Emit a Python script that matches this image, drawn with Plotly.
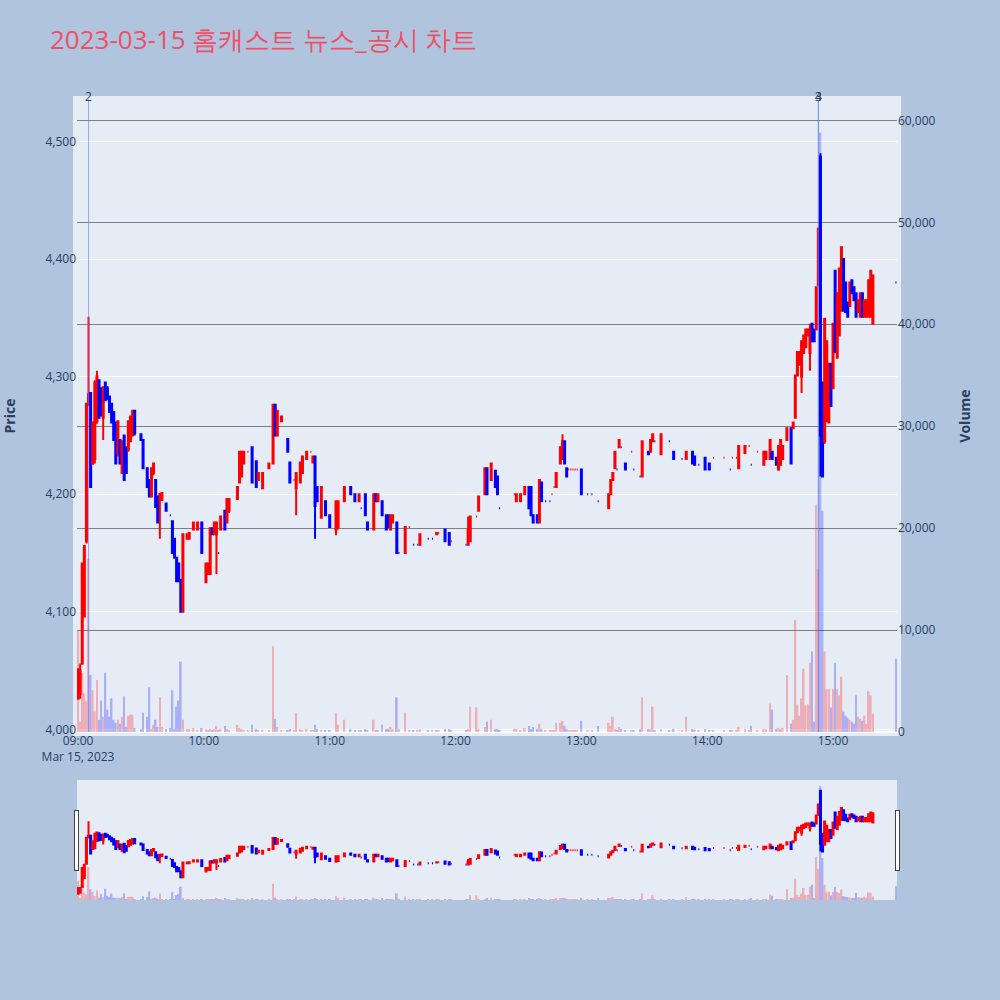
import pandas as pd
import plotly.graph_objects as go

DATE = "2023-03-15"
TITLE = "2023-03-15 홈캐스트 뉴스_공시 차트"

times = [
    "09:00","09:01","09:02","09:03","09:04","09:05","09:06","09:07","09:08","09:09",
    "09:10","09:11","09:12","09:13","09:14","09:15","09:16","09:17","09:18","09:19",
    "09:20","09:21","09:22","09:23","09:24","09:25","09:26","09:27","09:30","09:31",
    "09:33","09:34","09:35","09:36","09:37","09:38","09:39","09:40","09:42","09:44",
    "09:45","09:46","09:47","09:48","09:49","09:50","09:52","09:53","09:55","09:57",
    "09:59","10:01","10:02","10:03","10:04","10:05","10:06","10:07","10:08","10:10",
    "10:11","10:12","10:16","10:17","10:18","10:19","10:21","10:23","10:25","10:26",
    "10:28","10:31","10:33","10:34","10:35","10:37","10:40","10:41","10:43","10:44",
    "10:46","10:47","10:49","10:51","10:52","10:53","10:54","10:56","10:58","11:00",
    "11:03","11:04","11:07","11:10","11:12","11:14","11:15","11:17","11:18","11:21",
    "11:22","11:23","11:25","11:27","11:28","11:29","11:30","11:32","11:33","11:36",
    "11:38","11:40","11:42","11:43","11:47","11:49","11:51","11:52","11:55","11:57",
    "11:58","12:05","12:06","12:07","12:10","12:11","12:14","12:15","12:17","12:19",
    "12:20","12:21","12:28","12:29","12:31","12:33","12:35","12:36","12:37","12:39",
    "12:40","12:41","12:43","12:45","12:46","12:47","12:48","12:50","12:51","12:52",
    "12:53","12:54","12:55","12:56","12:57","12:58","13:00","13:03","13:05","13:08",
    "13:13","13:14","13:15","13:16","13:17","13:18","13:19","13:21","13:24","13:25",
    "13:28","13:29","13:32","13:33","13:34","13:35","13:38","13:42","13:44","13:48",
    "13:50","13:53","13:54","13:56","13:59","14:01","14:03","14:08","14:11","14:12",
    "14:14","14:15","14:18","14:20","14:21","14:24","14:27","14:28","14:30","14:31",
    "14:33","14:34","14:35","14:36","14:38","14:40","14:41","14:42","14:43","14:44",
    "14:45","14:46","14:47","14:48","14:49","14:50","14:51","14:52","14:53","14:54",
    "14:55","14:56","14:57","14:58","14:59","15:00","15:01","15:02","15:03","15:04",
    "15:05","15:06","15:07","15:08","15:09","15:10","15:11","15:12","15:13","15:14",
    "15:15","15:16","15:17","15:18","15:19","15:30",
]

opens = [
    4026,4030,4056,4096,4160,4278,4286,4226,4230,4262,
    4297,4290,4265,4295,4290,4283,4277,4270,4261,4235,
    4246,4218,4250,4240,4238,4245,4250,4271,4251,4246,
    4222,4212,4198,4218,4212,4198,4195,4195,4192,4182,
    4177,4162,4146,4141,4127,4100,4162,4162,4170,4170,
    4176,4125,4132,4132,4171,4166,4166,4150,4170,4186,
    4176,4186,4196,4210,4215,4226,4236,4240,4228,4212,
    4205,4222,4226,4276,4250,4262,4247,4227,4212,4205,
    4210,4218,4230,4236,4227,4232,4206,4180,4194,4182,
    4170,4172,4194,4206,4200,4194,4188,4200,4176,4170,
    4200,4194,4194,4182,4182,4170,4176,4176,4150,4150,
    4172,4157,4157,4157,4162,4162,4166,4167,4170,4167,
    4160,4157,4157,4160,4181,4186,4200,4222,4212,4220,
    4215,4188,4200,4194,4194,4200,4206,4206,4182,4182,
    4176,4210,4194,4194,4200,4206,4206,4226,4230,4245,
    4222,4221,4221,4221,4221,4221,4221,4200,4200,4194,
    4188,4200,4212,4222,4221,4240,4240,4226,4236,4221,
    4215,4215,4236,4236,4245,4245,4234,4245,4236,4230,
    4230,4236,4232,4225,4231,4226,4231,4231,4221,4231,
    4231,4222,4235,4241,4225,4236,4225,4230,4230,4236,
    4231,4221,4225,4230,4246,4256,4256,4265,4301,4310,
    4300,4320,4325,4335,4320,4345,4340,4340,4378,4487,
    4295,4245,4262,4261,4311,4290,4390,4316,4335,4356,
    4400,4380,4363,4360,4382,4376,4371,4355,4351,4371,
    4351,4351,4351,4351,4345,4380,
]

highs = [
    4051,4056,4141,4156,4277,4351,4286,4261,4297,4305,
    4297,4290,4291,4295,4292,4283,4277,4270,4261,4262,
    4246,4245,4250,4240,4262,4266,4271,4271,4251,4246,
    4222,4212,4222,4226,4212,4198,4201,4201,4192,4182,
    4177,4162,4146,4141,4127,4166,4166,4167,4176,4176,
    4176,4141,4141,4171,4171,4176,4176,4150,4181,4186,
    4196,4196,4206,4236,4236,4236,4236,4240,4228,4218,
    4218,4226,4276,4276,4271,4266,4247,4227,4212,4218,
    4227,4232,4236,4236,4232,4232,4206,4206,4194,4182,
    4194,4194,4206,4206,4200,4200,4188,4200,4176,4200,
    4200,4200,4194,4182,4182,4182,4182,4176,4150,4172,
    4172,4157,4157,4166,4162,4162,4167,4167,4170,4167,
    4160,4157,4181,4181,4181,4198,4222,4222,4226,4220,
    4215,4188,4200,4200,4200,4206,4206,4206,4182,4182,
    4212,4210,4194,4194,4200,4206,4218,4240,4251,4245,
    4222,4221,4221,4221,4221,4221,4221,4200,4200,4194,
    4200,4212,4218,4236,4221,4246,4240,4226,4236,4221,
    4215,4245,4236,4246,4251,4245,4251,4245,4236,4230,
    4236,4236,4232,4225,4231,4226,4231,4231,4221,4231,
    4231,4241,4241,4241,4225,4236,4236,4236,4246,4236,
    4231,4241,4246,4241,4256,4256,4261,4301,4321,4321,
    4330,4335,4340,4340,4345,4345,4340,4376,4426,4490,
    4295,4350,4330,4311,4311,4345,4390,4371,4392,4410,
    4400,4380,4363,4380,4382,4376,4371,4365,4371,4371,
    4365,4365,4382,4390,4386,4380,
]

lows = [
    4026,4026,4055,4095,4158,4275,4206,4225,4226,4260,
    4265,4266,4246,4280,4280,4270,4261,4246,4226,4232,
    4226,4218,4212,4218,4236,4245,4250,4250,4246,4222,
    4206,4198,4198,4216,4189,4176,4162,4195,4186,4182,
    4150,4146,4126,4126,4100,4100,4162,4162,4170,4170,
    4150,4125,4132,4132,4166,4166,4132,4150,4170,4170,
    4176,4184,4196,4210,4215,4226,4236,4210,4206,4212,
    4205,4222,4226,4250,4250,4262,4236,4210,4212,4182,
    4210,4218,4230,4236,4227,4162,4194,4180,4182,4172,
    4165,4170,4194,4200,4194,4194,4188,4182,4170,4170,
    4194,4194,4182,4170,4172,4170,4176,4150,4150,4150,
    4172,4157,4157,4157,4162,4162,4166,4167,4160,4157,
    4160,4157,4157,4160,4181,4186,4200,4200,4212,4206,
    4200,4188,4200,4194,4194,4200,4188,4182,4176,4176,
    4176,4194,4194,4194,4200,4206,4206,4226,4230,4226,
    4215,4221,4221,4221,4221,4221,4200,4200,4200,4194,
    4188,4200,4212,4222,4221,4240,4240,4221,4236,4221,
    4215,4215,4234,4236,4245,4245,4234,4245,4230,4230,
    4230,4226,4225,4225,4221,4221,4231,4231,4221,4231,
    4231,4222,4235,4241,4225,4236,4225,4230,4230,4230,
    4225,4220,4225,4230,4246,4226,4256,4265,4301,4310,
    4286,4320,4325,4335,4305,4330,4330,4340,4378,4215,
    4215,4243,4262,4261,4275,4290,4321,4316,4335,4356,
    4356,4355,4351,4360,4371,4365,4351,4355,4351,4351,
    4351,4351,4351,4351,4345,4380,
]

closes = [
    4051,4050,4141,4156,4277,4285,4206,4261,4295,4300,
    4265,4268,4291,4280,4282,4270,4261,4246,4226,4262,
    4226,4245,4212,4218,4262,4266,4271,4252,4246,4222,
    4206,4198,4222,4226,4189,4176,4200,4201,4186,4182,
    4150,4146,4126,4126,4100,4166,4166,4167,4176,4176,
    4150,4141,4141,4171,4166,4176,4176,4150,4181,4170,
    4196,4196,4206,4236,4236,4236,4236,4210,4206,4218,
    4218,4226,4276,4250,4271,4266,4236,4210,4212,4218,
    4227,4232,4236,4236,4232,4190,4194,4206,4182,4172,
    4194,4194,4206,4200,4194,4200,4188,4182,4170,4200,
    4194,4200,4182,4170,4172,4182,4182,4150,4150,4172,
    4172,4157,4157,4166,4162,4162,4167,4167,4160,4157,
    4160,4157,4170,4181,4181,4198,4222,4200,4226,4206,
    4200,4188,4200,4200,4200,4206,4188,4182,4176,4176,
    4212,4194,4194,4194,4200,4206,4218,4240,4245,4226,
    4215,4221,4221,4221,4221,4221,4200,4200,4200,4194,
    4200,4212,4218,4236,4221,4246,4240,4221,4236,4221,
    4215,4245,4234,4246,4251,4245,4251,4245,4230,4230,
    4236,4226,4225,4225,4221,4221,4231,4231,4221,4231,
    4231,4241,4241,4241,4225,4236,4236,4236,4246,4230,
    4225,4241,4246,4241,4256,4226,4261,4301,4321,4321,
    4330,4335,4340,4340,4340,4330,4330,4376,4426,4250,
    4215,4349,4330,4311,4275,4345,4321,4371,4392,4410,
    4356,4355,4351,4380,4371,4365,4351,4365,4371,4351,
    4365,4365,4382,4390,4386,4380,
]

volumes = [
    9900,1000,5800,3800,3000,17000,5600,4100,2000,5100,
    1200,3100,1500,5800,2200,1500,3300,1200,900,1200,
    800,1500,3500,500,1600,1700,1700,400,300,1900,
    1500,4400,300,700,1200,500,3400,500,300,400,
    4100,300,2500,3100,6900,1200,300,300,400,200,
    400,300,200,300,200,300,600,200,300,600,
    300,200,700,400,300,200,200,700,300,200,
    200,200,8400,1300,500,200,200,300,200,1900,
    300,200,300,200,200,700,300,200,200,200,
    1900,700,1200,300,200,200,200,300,200,1200,
    200,200,700,300,300,500,300,3400,300,1900,
    200,200,200,300,200,200,200,200,300,300,
    200,200,300,2500,2400,300,500,1000,1200,300,
    300,200,300,300,200,400,600,300,500,300,
    800,300,200,200,200,200,900,900,1100,600,
    300,200,200,200,200,200,1100,200,200,600,
    900,600,1500,300,200,500,300,200,200,200,
    300,3400,300,300,2500,200,300,200,300,200,
    1500,300,200,200,300,200,200,200,200,200,
    200,500,300,200,600,200,300,300,2800,2200,
    300,400,300,400,5600,800,1200,11000,2700,1600,
    3300,6200,2600,2700,6800,7900,1000,22300,16000,58800,
    21700,7900,4200,4200,2400,4200,6800,4200,3600,5400,
    2000,1600,1400,1200,1000,800,3600,1500,1300,1100,
    1600,800,4000,3600,1800,7200,
]

event_times = ["09:05", "14:53", "14:53"]
event_labels = ["2", "3", "4"]

price_range = [3997.7, 4535.3]
volume_range = [0, 62000]

BG = "#E5ECF6"

x = pd.to_datetime([f"{DATE} {t}" for t in times])

vol_colors = []
prev_close = None
for o, c in zip(opens, closes):
    if c > o:
        up = True
    elif c < o:
        up = False
    else:
        up = prev_close is None or c >= prev_close
    vol_colors.append("red" if up else "blue")
    prev_close = c

fig = go.Figure()
fig.add_trace(go.Candlestick(
    x=x, open=opens, high=highs, low=lows, close=closes,
    increasing=dict(line=dict(color="red", width=2), fillcolor="red"),
    decreasing=dict(line=dict(color="blue", width=2), fillcolor="blue"),
    showlegend=False, name="Price",
))
fig.add_trace(go.Bar(
    x=x, y=volumes, yaxis="y2", marker=dict(color=vol_colors, line=dict(width=0)),
    opacity=0.25, showlegend=False, name="Volume",
))

# thin frame of plot background colour just around the plotting area
fig.add_shape(type="rect", xref="paper", yref="paper",
              x0=-4 / 820, x1=1 + 4 / 820, y0=-4 / 629, y1=1 + 4 / 629,
              fillcolor=BG, line=dict(width=0), layer="below")

for t, lab in zip(event_times, event_labels):
    ts = pd.Timestamp(f"{DATE} {t}")
    fig.add_shape(type="line", xref="x", yref="paper", x0=ts, x1=ts, y0=0, y1=1,
                  line=dict(color="rgba(80,120,235,0.55)", width=1))
    fig.add_annotation(x=ts, y=1, xref="x", yref="paper", text=lab, showarrow=False,
                       yanchor="bottom", yshift=-7, font=dict(size=12, color="#2a3f5f"))

fig.update_layout(
    width=1000, height=1000,
    paper_bgcolor="#B0C4DE", plot_bgcolor=BG,
    title=dict(text=TITLE, x=0.05, xanchor="left", y=0.96, yanchor="middle",
               font=dict(size=26, color="#EE5068")),
    margin=dict(l=77, r=103, t=100, b=100),
    showlegend=False,
    xaxis=dict(type="date", showgrid=False, dtick=3600000,
               tick0=f"{DATE} 09:00",
               rangeslider=dict(visible=True, bgcolor=BG, thickness=0.15)),
    yaxis=dict(title=dict(text="<b>Price</b>", font=dict(size=14), standoff=26),
               tickformat=",", dtick=100, range=price_range, automargin=False),
    yaxis2=dict(title=dict(text="<b>Volume</b>", font=dict(size=14), standoff=25),
                overlaying="y", side="right",
                tickformat=",", dtick=10000, range=volume_range, gridcolor="gray",
                automargin=False),
)

fig.write_html("out.html", config={"displayModeBar": False})

# remove the default page margin so the figure sits at the window's top-left corner
with open("out.html", "r", encoding="utf-8") as f:
    html = f.read()
html = html.replace("<body>", '<body style="margin:0;padding:0;">', 1)
with open("out.html", "w", encoding="utf-8") as f:
    f.write(html)
